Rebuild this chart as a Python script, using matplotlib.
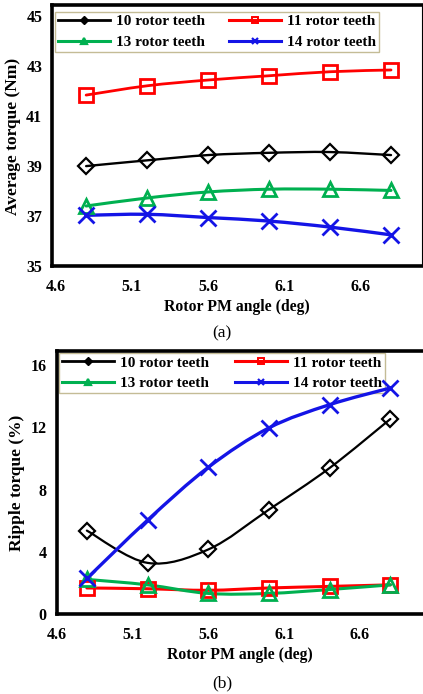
import matplotlib
matplotlib.use("Agg")
import matplotlib.pyplot as plt
import numpy as np
from matplotlib.path import Path
from matplotlib.patches import PathPatch
from matplotlib.lines import Line2D

# rotor PM angle (deg)
angle = [4.8, 5.2, 5.6, 6.0, 6.4, 6.8]

# (a) average torque (Nm)
avg_10 = [39.0, 39.23, 39.44, 39.53, 39.56, 39.44]
avg_11 = [41.83, 42.2, 42.43, 42.6, 42.76, 42.83]
avg_13 = [37.41, 37.73, 37.97, 38.08, 38.08, 38.03]
avg_14 = [37.04, 37.08, 36.95, 36.81, 36.57, 36.26]

# (b) ripple torque (%)
rip_10 = [5.38, 3.31, 4.17, 6.73, 9.40, 12.54]
rip_11 = [1.7, 1.65, 1.55, 1.7, 1.8, 1.9]
rip_13 = [2.25, 1.9, 1.35, 1.35, 1.6, 1.9]
rip_14 = [2.31, 6.05, 9.44, 11.97, 13.46, 14.53]

labels = ["10 rotor teeth", "11 rotor teeth", "13 rotor teeth", "14 rotor teeth"]
xticks = [4.6, 5.1, 5.6, 6.1, 6.6]

plt.rcParams['font.family'] = ['Liberation Serif', 'DejaVu Serif']
plt.rcParams['font.weight'] = 'bold'

GREEN = '#00b050'
BLUE = '#1414e6'
TAN = '#c4bc96'


def smooth_path(x, y):
    # excel-style smoothed line: bezier segments through the points
    p = np.column_stack([x, y]).astype(float)
    verts = [p[0]]
    codes = [Path.MOVETO]
    n = len(p)
    for i in range(n - 1):
        p0 = p[i - 1] if i > 0 else p[i]
        p3 = p[i + 2] if i + 2 < n else p[i + 1]
        c1 = p[i] + (p[i + 1] - p0) / 6.0
        c2 = p[i + 1] - (p3 - p[i]) / 6.0
        verts += [c1, c2, p[i + 1]]
        codes += [Path.CURVE4] * 3
    return Path(verts, codes)


def draw_series(ax, y, color, lw, marker, ms, mew):
    ax.add_patch(PathPatch(smooth_path(angle, y), fill=False, edgecolor=color,
                           lw=lw, zorder=3, capstyle='round', joinstyle='round'))
    ax.plot(angle, y, linestyle='none', marker=marker, ms=ms, mew=mew,
            mec=color, mfc='none', zorder=4)


def style_axes(ax, ylabel, yticks, ylim, xlim):
    ax.set_xlim(*xlim)
    ax.set_ylim(*ylim)
    ax.set_xticks(xticks)
    ax.set_xticklabels([f"{t:.1f}" for t in xticks])
    ax.set_yticks(yticks)
    ax.tick_params(length=0, labelsize=11.5)
    ax.tick_params(axis='x', pad=9)
    ax.tick_params(axis='y', pad=7)
    for s in ['left', 'bottom', 'top']:
        ax.spines[s].set_linewidth(2.6)
    ax.spines['right'].set_visible(False)
    ax.set_xlabel("Rotor PM angle (deg)", fontsize=11.3, fontweight='bold', labelpad=3)
    ax.set_ylabel(ylabel, fontsize=12.5, fontweight='bold', labelpad=4)


def add_legend(ax, handles, bbox):
    order = [0, 2, 1, 3]
    leg = ax.legend([handles[i] for i in order], [labels[i] for i in order],
                    ncol=2, loc='lower left', bbox_to_anchor=bbox, mode='expand',
                    handlelength=3.4, handletextpad=0.4,
                    columnspacing=1.0, labelspacing=0.45, borderpad=0.2,
                    borderaxespad=0, fancybox=False, framealpha=1,
                    edgecolor=TAN, prop={'weight': 'bold', 'size': 11})
    leg.get_frame().set_linewidth(1.0)
    leg.set_zorder(2)


handles = [
    Line2D([], [], color='black', lw=2.0, marker='D', ms=4, mfc='black', mec='black'),
    Line2D([], [], color='red', lw=2.2, marker='s', ms=5, mfc='none', mec='red', mew=1.4),
    Line2D([], [], color=GREEN, lw=2.2, marker='^', ms=5, mfc='none', mec=GREEN, mew=1.6),
    Line2D([], [], color=BLUE, lw=2.2, marker='x', ms=5, mec=BLUE, mew=1.6),
]

fig = plt.figure(figsize=(4.23, 6.94), dpi=100)

# (a)
ax1 = fig.add_axes([0.1229, 0.616, 0.8736, 0.3761])
draw_series(ax1, avg_10, 'black', 1.7, 'D', 8.5, 1.6)
draw_series(ax1, avg_11, 'red', 2.0, 's', 10.5, 2.0)
draw_series(ax1, avg_13, GREEN, 2.2, '^', 10.5, 2.0)
draw_series(ax1, avg_14, BLUE, 2.4, 'x', 11, 2.0)
style_axes(ax1, "Average torque (Nm)", [35, 37, 39, 41, 43, 45], (35, 45.4), (4.576, 7.0))
ax1.spines['right'].set_visible(True)
ax1.spines['right'].set_linewidth(0.8)
add_legend(ax1, handles, (0.008, 0.822, 0.877, 0.175))

# (b)
ax2 = fig.add_axes([0.1336, 0.1146, 0.8664, 0.3796])
draw_series(ax2, rip_10, 'black', 1.6, 'D', 8.5, 1.6)
draw_series(ax2, rip_11, 'red', 2.2, 's', 10.5, 2.0)
draw_series(ax2, rip_13, GREEN, 2.2, '^', 10.5, 2.0)
draw_series(ax2, rip_14, BLUE, 2.4, 'x', 11, 2.0)
style_axes(ax2, "Ripple torque (%)", [0, 4, 8, 12, 16], (0, 16.9), (4.6, 7.015))
add_legend(ax2, handles, (0.007, 0.84, 0.89, 0.165))

fig.text(0.525, 1 - 333 / 694, "(a)", ha='center', va='center', fontsize=12.5, fontweight='normal')
fig.text(0.525, 1 - 683 / 694, "(b)", ha='center', va='center', fontsize=12.5, fontweight='normal')

fig.savefig("out.png", dpi=100)
